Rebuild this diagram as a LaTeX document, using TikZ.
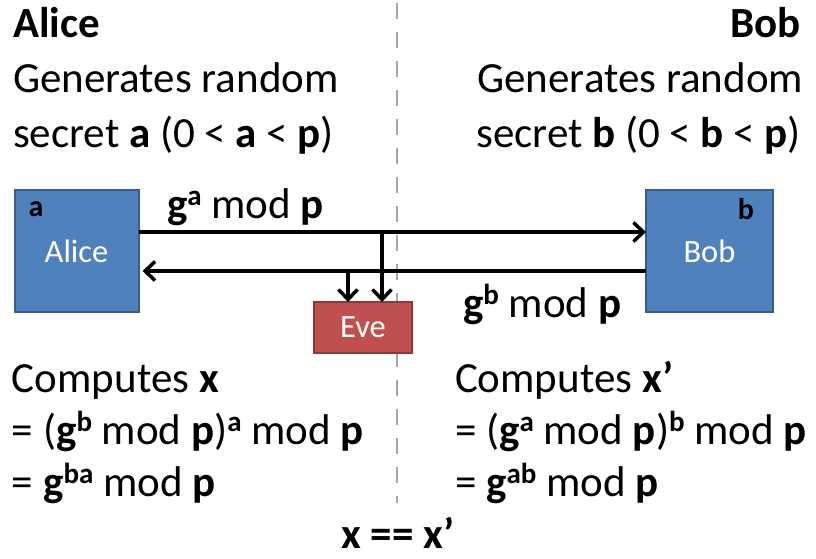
\documentclass[tikz,border=0pt]{standalone}
\usepackage{fontspec}
\setmainfont{Carlito}
\usetikzlibrary{positioning,arrows.meta}

\definecolor{partyblue}{HTML}{4F81BD}
\definecolor{partyblueline}{HTML}{385D8A}
\definecolor{spyred}{HTML}{C0504D}
\definecolor{spyredline}{HTML}{8C3836}
\definecolor{dividergray}{HTML}{A6A6A6}

\newcommand{\bigtext}{\fontsize{43}{53}\selectfont}
\newcommand{\boxtext}{\fontsize{32.5}{38}\selectfont}
\newcommand{\supb}[1]{\raisebox{13pt}{\fontsize{29}{30}\selectfont\textbf{#1}}}
\newcommand{\gexp}[1]{\textbf{g}\supb{#1}}

\begin{document}
\begin{tikzpicture}[x=1pt,y=-1pt,
    every node/.style={inner sep=0pt,outer sep=0pt},
    txt/.style={font=\bigtext},
    party/.style={draw=partyblueline,fill=partyblue,line width=2pt,
      minimum width=124pt,minimum height=122pt,text=white,font=\boxtext},
    spy/.style={draw=spyredline,fill=spyred,line width=2pt,
      minimum width=98pt,minimum height=51pt,text=white,font=\boxtext},
    keylabel/.style={font=\fontsize{30}{32}\selectfont\bfseries},
    msg/.style={line width=3.5pt,-{Straight Barb[length=10pt,width=19pt]}}]

    \useasboundingbox (0,0) rectangle (816,558);

    % divider between the two sides
    \draw[dividergray,line width=2pt,dash pattern=on 16pt off 13pt]
        (397,3) -- (397,503);

    % Alice side, top
    \node[txt,anchor=base west] (alicetitle)  at (13,37)  {\textbf{Alice}};
    \node[txt,anchor=base west] (alicegen)    at (13,92)  {Generates random};
    \node[txt,anchor=base west] (alicesecret) at (13,147)
        {secret \textbf{a} (0 < \textbf{a} < \textbf{p})};

    % Bob side, top
    \node[txt,anchor=base east] (bobtitle)  at (801,37)  {\textbf{Bob}};
    \node[txt,anchor=base east] (bobgen)    at (803,92)  {Generates random};
    \node[txt,anchor=base east] (bobsecret) at (801,147)
        {secret \textbf{b} (0 < \textbf{b} < \textbf{p})};

    % the parties
    \node[party] (alice) at (76.5,251) {Alice};
    \node[party,minimum width=127pt] (bob) at (709.5,251) {Bob};
    \node[spy] (eve) at (363,327.5) {Eve};

    \node[keylabel,anchor=base west] (alicekey)
        at ([xshift=14pt,yshift=-26pt]alice.north west) {a};
    \node[keylabel,anchor=base east] (bobkey)
        at ([xshift=-19pt,yshift=-29pt]bob.north east) {b};

    % messages
    \draw[msg] ([yshift=19pt]alice.east) -- ([yshift=19pt]bob.west);
    \draw[msg,shorten >=4pt] ([yshift=-20pt]bob.west) -- ([yshift=-20pt]alice.east);

    \node[txt,anchor=base west] (galabel) at (167,218) {\gexp{a} mod \textbf{p}};
    \node[txt,anchor=base west] (gblabel) at (463,317) {\gexp{b} mod \textbf{p}};

    % Eve listens on both lines
    \coordinate (tapga) at (382,232);
    \coordinate (tapgb) at (348,271);
    \draw[msg] (tapga) -- (tapga |- eve.north);
    \draw[msg] (tapgb) -- (tapgb |- eve.north);

    % Alice side, bottom
    \node[txt,anchor=base west] (alicecomp) at (12,392) {Computes \textbf{x}};
    \node[txt,anchor=base west] (alicestep) at (12,444)
        {= (\gexp{b} mod \textbf{p})\supb{a} mod \textbf{p}};
    \node[txt,anchor=base west] (aliceres)  at (12,496) {= \gexp{ba} mod \textbf{p}};

    % Bob side, bottom
    \node[txt,anchor=base west] (bobcomp) at (455,392) {Computes \textbf{x'}};
    \node[txt,anchor=base west] (bobstep) at (455,444)
        {= (\gexp{a} mod \textbf{p})\supb{b} mod \textbf{p}};
    \node[txt,anchor=base west] (bobres)  at (455,496) {= \gexp{ab} mod \textbf{p}};

    \node[txt,anchor=base] (sharedkey) at (398,548) {\textbf{x == x'}};
\end{tikzpicture}
\end{document}
